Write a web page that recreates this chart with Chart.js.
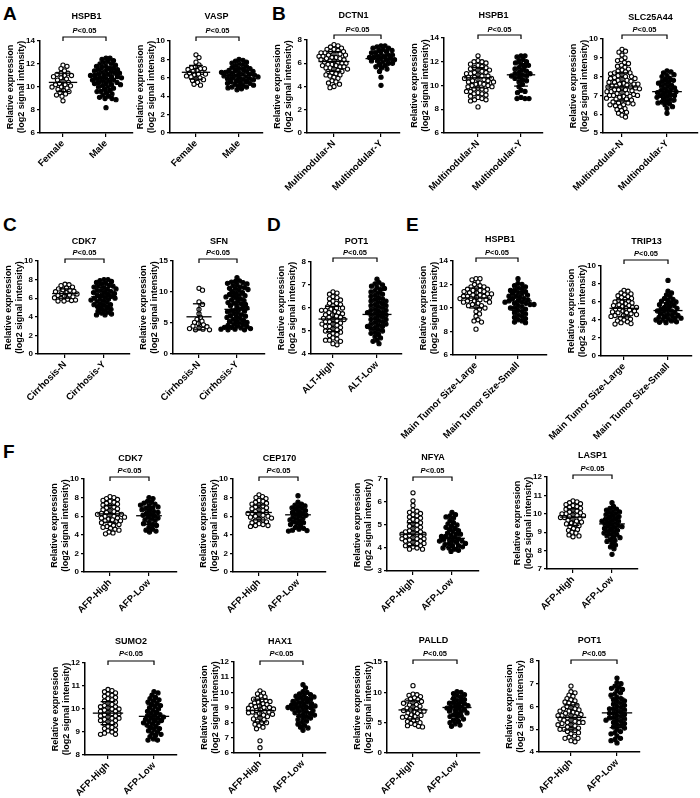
<!DOCTYPE html>
<html>
<head>
<meta charset="utf-8">
<script src="https://cdn.jsdelivr.net/npm/chart.js@4.4.0/dist/chart.umd.min.js"></script>
<style>
body { margin: 0; width: 700px; height: 798px; background: #fff; position: relative; overflow: hidden; font-family: "Liberation Sans", Arial, sans-serif; }
.letter { position: absolute; font-weight: bold; font-size: 19px; line-height: 19px; color: #000; }
canvas { position: absolute; }
</style>
</head>
<body>
<div class="letter" style="left:3px;top:4px">A</div>
<div class="letter" style="left:272px;top:4px">B</div>
<div class="letter" style="left:3px;top:215px">C</div>
<div class="letter" style="left:267px;top:215px">D</div>
<div class="letter" style="left:406px;top:215px">E</div>
<div class="letter" style="left:3px;top:442px">F</div>
<script>
// category labels
const catSex = ['Female', 'Male']
const catMulti = ['Multinodular-N', 'Multinodular-Y']
const catCirr = ['Cirrhosis-N', 'Cirrhosis-Y']
const catAlt = ['ALT-High', 'ALT-Low']
const catSize = ['Main Tumor Size-Large', 'Main Tumor Size-Small']
const catAfp = ['AFP-High', 'AFP-Low']

// A: gender
const hspb1Female = [8.8, 9.2, 9.3, 9.4, 9.5, 9.6, 9.7, 9.8, 9.9, 10.0, 10.0, 10.1, 10.2, 10.2, 10.3, 10.4, 10.5, 10.6, 10.7, 10.8, 10.9, 11.0, 11.0, 11.1, 11.2, 11.2, 11.4, 11.6, 11.8, 11.9]
const hspb1Male = [8.2, 8.9, 9.0, 9.0, 9.1, 9.2, 9.3, 9.4, 9.5, 9.6, 9.6, 9.7, 9.8, 9.9, 10.0, 10.0, 10.1, 10.2, 10.2, 10.3, 10.4, 10.4, 10.5, 10.5, 10.6, 10.6, 10.7, 10.7, 10.8, 10.8, 10.9, 10.9, 11.0, 11.0, 11.1, 11.1, 11.2, 11.2, 11.3, 11.3, 11.4, 11.4, 11.5, 11.5, 11.6, 11.6, 11.7, 11.8, 11.8, 11.9, 12.0, 12.0, 12.1, 12.2, 12.3, 12.4, 12.5, 12.5, 10.3, 11.0]
const vaspFemale = [5.2, 5.3, 5.5, 5.7, 5.8, 5.9, 6.0, 6.1, 6.2, 6.3, 6.4, 6.4, 6.5, 6.6, 6.7, 6.8, 6.9, 7.0, 7.0, 7.1, 7.2, 7.4, 7.7, 8.2, 8.5]
const vaspMale = [4.7, 4.8, 4.9, 5.0, 5.0, 5.1, 5.2, 5.2, 5.3, 5.4, 5.4, 5.5, 5.6, 5.6, 5.7, 5.8, 5.8, 5.9, 5.9, 6.0, 6.0, 6.1, 6.1, 6.2, 6.2, 6.3, 6.3, 6.4, 6.4, 6.5, 6.5, 6.6, 6.6, 6.7, 6.7, 6.8, 6.8, 6.9, 7.0, 7.0, 7.1, 7.2, 7.3, 7.4, 7.5, 7.6, 7.7, 7.8, 7.9, 8.0]

// B: multinodular
const dctn1N = [3.9, 4.0, 4.2, 4.3, 4.4, 4.5, 4.7, 4.8, 4.9, 5.0, 5.0, 5.1, 5.2, 5.3, 5.3, 5.4, 5.5, 5.5, 5.6, 5.6, 5.7, 5.7, 5.8, 5.8, 5.9, 5.9, 6.0, 6.0, 6.1, 6.1, 6.2, 6.2, 6.3, 6.3, 6.4, 6.4, 6.5, 6.5, 6.6, 6.6, 6.7, 6.7, 6.8, 6.8, 6.9, 6.9, 7.0, 7.0, 7.1, 7.2, 7.2, 7.3, 7.4, 7.5, 7.6]
const dctn1Y = [4.1, 4.8, 5.3, 5.5, 5.6, 5.7, 5.8, 5.9, 6.0, 6.0, 6.1, 6.2, 6.2, 6.3, 6.3, 6.4, 6.4, 6.5, 6.5, 6.6, 6.6, 6.7, 6.7, 6.8, 6.9, 6.9, 7.0, 7.1, 7.1, 7.2, 7.3, 7.3, 7.4, 7.5, 7.5]
const hspb1MultiN = [8.2, 8.7, 8.8, 8.8, 8.9, 9.0, 9.1, 9.2, 9.3, 9.3, 9.4, 9.5, 9.5, 9.6, 9.7, 9.7, 9.8, 9.9, 9.9, 10.0, 10.0, 10.1, 10.1, 10.2, 10.3, 10.3, 10.4, 10.4, 10.5, 10.5, 10.6, 10.6, 10.7, 10.7, 10.8, 10.8, 10.9, 11.0, 11.0, 11.1, 11.1, 11.2, 11.3, 11.3, 11.4, 11.5, 11.5, 11.6, 11.7, 11.8, 11.9, 12.0, 12.0, 12.1, 12.5]
const hspb1MultiY = [8.9, 8.9, 8.9, 9.0, 9.4, 9.5, 9.6, 9.9, 10.1, 10.3, 10.4, 10.5, 10.6, 10.7, 10.8, 10.8, 10.9, 11.0, 11.0, 11.1, 11.2, 11.3, 11.4, 11.5, 11.6, 11.7, 11.8, 11.9, 12.0, 12.1, 12.2, 12.4, 12.5, 12.5]
const slc25a44N = [5.85, 5.95, 6.05, 6.1, 6.2, 6.25, 6.3, 6.4, 6.45, 6.5, 6.55, 6.6, 6.6, 6.65, 6.7, 6.75, 6.8, 6.8, 6.85, 6.9, 6.95, 7.0, 7.0, 7.05, 7.1, 7.1, 7.15, 7.2, 7.2, 7.25, 7.3, 7.3, 7.35, 7.4, 7.4, 7.45, 7.5, 7.5, 7.55, 7.6, 7.6, 7.65, 7.7, 7.7, 7.75, 7.8, 7.8, 7.85, 7.9, 7.9, 7.95, 8.0, 8.0, 8.05, 8.1, 8.15, 8.2, 8.2, 8.25, 8.3, 8.35, 8.4, 8.5, 8.55, 8.6, 8.7, 8.75, 8.85, 8.9, 9.0, 9.15, 9.3, 9.35, 9.45, 7.0, 7.3, 7.6, 6.5, 6.95, 7.45]
const slc25a44Y = [6.05, 6.3, 6.4, 6.5, 6.55, 6.6, 6.65, 6.7, 6.75, 6.8, 6.85, 6.9, 6.95, 7.0, 7.0, 7.05, 7.1, 7.15, 7.2, 7.2, 7.25, 7.3, 7.35, 7.4, 7.45, 7.5, 7.55, 7.6, 7.65, 7.7, 7.75, 7.8, 7.85, 7.9, 8.0, 8.05, 8.1, 8.2, 8.25, 8.3]

// C: cirrhosis
const cdk7CirrN = [5.7, 5.7, 5.75, 5.8, 5.9, 6.0, 6.05, 6.15, 6.2, 6.3, 6.35, 6.45, 6.5, 6.6, 6.7, 6.75, 6.85, 6.9, 7.0, 7.1, 7.2, 7.35, 7.45, 7.5]
const cdk7CirrY = [4.2, 4.2, 4.3, 4.4, 4.5, 4.6, 4.7, 4.8, 4.9, 5.0, 5.1, 5.2, 5.3, 5.3, 5.4, 5.5, 5.6, 5.7, 5.8, 5.9, 6.0, 6.0, 6.1, 6.2, 6.3, 6.3, 6.4, 6.5, 6.6, 6.7, 6.8, 6.8, 6.9, 7.0, 7.1, 7.2, 7.3, 7.3, 7.4, 7.5, 7.6, 7.7, 7.8, 7.9, 8.0, 8.0, 6.6, 5.9]
const sfnCirrN = [3.9, 3.9, 4.0, 4.1, 4.2, 4.4, 4.5, 4.7, 4.9, 5.1, 5.3, 5.6, 5.9, 6.5, 7.2, 8.0, 8.4, 10.3, 10.6]
const sfnCirrY = [3.9, 3.9, 4.0, 4.0, 4.1, 4.2, 4.3, 4.4, 4.5, 4.6, 4.7, 4.8, 5.0, 5.1, 5.3, 5.4, 5.6, 5.7, 5.9, 6.0, 6.2, 6.3, 6.5, 6.6, 6.8, 6.9, 7.1, 7.2, 7.4, 7.5, 7.7, 7.8, 8.0, 8.1, 8.3, 8.4, 8.6, 8.7, 8.9, 9.0, 9.2, 9.3, 9.5, 9.6, 9.8, 9.9, 10.1, 10.2, 10.4, 10.5, 10.7, 10.8, 11.0, 11.1, 11.3, 11.4, 11.6, 11.7, 11.8, 12.3, 4.3, 5.2, 6.1, 7.0, 8.2, 9.4, 10.6, 11.5]

// D: ALT
const pot1AltHigh = [4.4, 4.45, 4.55, 4.6, 4.6, 4.65, 4.7, 4.8, 4.85, 4.9, 4.95, 5.0, 5.0, 5.05, 5.1, 5.15, 5.2, 5.2, 5.25, 5.3, 5.3, 5.35, 5.4, 5.4, 5.45, 5.5, 5.5, 5.55, 5.6, 5.6, 5.65, 5.7, 5.7, 5.75, 5.8, 5.8, 5.85, 5.9, 5.9, 5.95, 6.0, 6.0, 6.05, 6.1, 6.15, 6.2, 6.2, 6.3, 6.35, 6.4, 6.45, 6.5, 6.6, 6.65, 6.7]
const pot1AltLow = [4.45, 4.55, 4.6, 4.7, 4.75, 4.85, 4.9, 4.95, 5.0, 5.05, 5.1, 5.15, 5.2, 5.25, 5.3, 5.3, 5.35, 5.4, 5.45, 5.5, 5.5, 5.55, 5.6, 5.65, 5.7, 5.7, 5.75, 5.8, 5.85, 5.9, 5.9, 5.95, 6.0, 6.05, 6.1, 6.1, 6.15, 6.2, 6.25, 6.3, 6.35, 6.4, 6.45, 6.5, 6.55, 6.6, 6.65, 6.7, 6.75, 6.8, 6.85, 6.9, 6.95, 7.0, 7.05, 7.1, 7.25, 5.2, 5.8, 6.3]

// E: tumor size
const hspb1Large = [8.2, 8.8, 8.9, 9.0, 9.3, 9.5, 9.7, 9.9, 10.0, 10.1, 10.2, 10.3, 10.4, 10.5, 10.5, 10.6, 10.6, 10.7, 10.7, 10.8, 10.8, 10.9, 10.9, 11.0, 11.0, 11.1, 11.1, 11.2, 11.2, 11.3, 11.3, 11.4, 11.4, 11.5, 11.5, 11.6, 11.6, 11.7, 11.8, 11.8, 11.9, 12.0, 12.2, 12.4, 12.5, 12.5, 10.2, 11.0]
const hspb1Small = [8.75, 8.8, 8.9, 9.0, 9.1, 9.2, 9.3, 9.4, 9.5, 9.6, 9.7, 9.8, 9.9, 10.0, 10.0, 10.1, 10.2, 10.3, 10.3, 10.4, 10.5, 10.5, 10.6, 10.6, 10.7, 10.8, 10.8, 10.9, 11.0, 11.0, 11.1, 11.2, 11.2, 11.3, 11.4, 11.5, 11.5, 11.6, 11.7, 11.8, 11.9, 12.0, 12.1, 12.5, 10.4]
const trip13Large = [3.55, 3.6, 3.7, 3.8, 3.9, 4.0, 4.1, 4.2, 4.3, 4.4, 4.5, 4.5, 4.6, 4.7, 4.8, 4.8, 4.9, 5.0, 5.0, 5.1, 5.2, 5.2, 5.3, 5.4, 5.4, 5.5, 5.6, 5.6, 5.7, 5.8, 5.9, 6.0, 6.0, 6.1, 6.2, 6.3, 6.4, 6.5, 6.6, 6.7, 6.8, 6.9, 7.0, 7.2, 7.3]
const trip13Small = [3.7, 3.75, 3.8, 3.9, 4.0, 4.0, 4.1, 4.2, 4.3, 4.4, 4.5, 4.5, 4.6, 4.7, 4.8, 4.9, 5.0, 5.0, 5.1, 5.2, 5.3, 5.4, 5.5, 5.6, 5.7, 5.8, 5.9, 6.0, 6.1, 6.2, 6.3, 6.4, 6.6, 6.8, 7.0, 7.2, 8.4, 4.2]

// F: AFP
const cdk7AfpHigh = [4.1, 4.2, 4.3, 4.5, 4.6, 4.7, 4.8, 4.9, 5.0, 5.1, 5.2, 5.3, 5.4, 5.5, 5.5, 5.6, 5.7, 5.8, 5.9, 6.0, 6.0, 6.1, 6.2, 6.3, 6.3, 6.4, 6.5, 6.6, 6.7, 6.8, 6.9, 7.0, 7.1, 7.2, 7.3, 7.4, 7.5, 7.6, 7.7, 7.8, 7.9, 8.0, 8.1, 6.2, 5.8]
const cdk7AfpLow = [4.3, 4.4, 4.5, 4.6, 4.8, 5.0, 5.1, 5.2, 5.3, 5.5, 5.6, 5.7, 5.8, 5.9, 6.0, 6.1, 6.2, 6.3, 6.4, 6.5, 6.6, 6.7, 6.8, 6.9, 7.0, 7.1, 7.2, 7.3, 7.4, 7.5, 7.6, 7.9, 8.0]
const cep170High = [4.9, 5.0, 5.0, 5.1, 5.2, 5.3, 5.4, 5.5, 5.6, 5.7, 5.8, 5.9, 6.0, 6.0, 6.1, 6.2, 6.3, 6.4, 6.5, 6.6, 6.7, 6.8, 6.9, 7.0, 7.1, 7.2, 7.3, 7.4, 7.5, 7.6, 7.7, 7.9, 8.0, 8.1, 8.3, 6.3]
const cep170Low = [4.4, 4.45, 4.5, 4.6, 4.7, 4.8, 5.0, 5.1, 5.2, 5.3, 5.4, 5.5, 5.6, 5.7, 5.8, 5.9, 6.0, 6.1, 6.2, 6.3, 6.4, 6.5, 6.6, 6.7, 6.8, 6.9, 7.0, 7.1, 7.2, 7.3, 7.5, 8.2]
const nfyaHigh = [3.95, 3.95, 4.0, 4.05, 4.1, 4.1, 4.15, 4.2, 4.2, 4.25, 4.3, 4.3, 4.35, 4.4, 4.4, 4.45, 4.5, 4.5, 4.55, 4.6, 4.6, 4.65, 4.7, 4.7, 4.75, 4.8, 4.85, 4.9, 4.95, 5.0, 5.05, 5.1, 5.15, 5.2, 5.25, 5.3, 5.35, 5.4, 5.45, 5.5, 5.55, 5.6, 5.65, 5.85, 6.05, 6.4, 4.4, 4.6]
const nfyaLow = [3.85, 3.9, 3.95, 4.0, 4.0, 4.05, 4.1, 4.1, 4.15, 4.2, 4.2, 4.25, 4.3, 4.3, 4.35, 4.4, 4.4, 4.45, 4.5, 4.5, 4.55, 4.6, 4.6, 4.65, 4.7, 4.75, 4.8, 4.85, 4.9, 4.95, 5.0, 5.05, 5.1, 5.2, 5.3, 5.35, 5.4, 5.45, 5.55, 4.3]
const lasp1High = [8.75, 8.8, 8.85, 8.95, 9.0, 9.1, 9.15, 9.2, 9.3, 9.35, 9.4, 9.45, 9.5, 9.55, 9.6, 9.65, 9.7, 9.75, 9.8, 9.85, 9.9, 9.95, 10.0, 10.0, 10.05, 10.1, 10.15, 10.2, 10.25, 10.3, 10.35, 10.4, 10.45, 10.5, 10.55, 10.6, 10.65, 10.7, 9.8, 9.9]
const lasp1Low = [7.8, 8.1, 8.2, 8.3, 8.4, 8.5, 8.55, 8.6, 8.7, 8.75, 8.8, 8.85, 8.9, 8.95, 9.0, 9.05, 9.1, 9.15, 9.2, 9.25, 9.3, 9.35, 9.4, 9.45, 9.5, 9.55, 9.6, 9.65, 9.7, 9.75, 9.8, 9.85, 9.9, 9.95, 10.0, 10.05, 10.1, 10.15, 10.2, 10.25, 10.3, 10.4, 10.6, 9.3, 9.6]
const sumo2High = [8.9, 8.9, 8.95, 9.0, 9.05, 9.1, 9.15, 9.2, 9.25, 9.3, 9.35, 9.4, 9.45, 9.5, 9.5, 9.55, 9.6, 9.65, 9.7, 9.7, 9.75, 9.8, 9.85, 9.9, 9.9, 9.95, 10.0, 10.05, 10.1, 10.1, 10.15, 10.2, 10.25, 10.3, 10.35, 10.4, 10.45, 10.5, 10.55, 10.6, 10.65, 10.7, 10.75, 10.8, 10.85, 9.8, 10.0, 9.6]
const sumo2Low = [8.65, 8.65, 8.7, 8.8, 8.85, 8.9, 8.95, 9.0, 9.05, 9.1, 9.15, 9.2, 9.25, 9.3, 9.35, 9.4, 9.45, 9.5, 9.5, 9.55, 9.6, 9.65, 9.7, 9.7, 9.75, 9.8, 9.85, 9.9, 9.95, 10.0, 10.05, 10.1, 10.15, 10.2, 10.25, 10.3, 10.35, 10.4, 10.45, 10.5, 10.6, 10.7, 10.75, 9.6, 9.4]
const hax1High = [6.35, 6.8, 7.6, 7.7, 7.8, 7.9, 8.0, 8.0, 8.1, 8.2, 8.25, 8.3, 8.4, 8.45, 8.5, 8.55, 8.6, 8.65, 8.7, 8.75, 8.8, 8.85, 8.9, 8.95, 9.0, 9.05, 9.1, 9.15, 9.2, 9.25, 9.3, 9.35, 9.4, 9.45, 9.5, 9.55, 9.6, 9.7, 9.75, 9.9, 9.95, 10.1, 8.7, 9.0]
const hax1Low = [7.5, 7.65, 7.7, 7.8, 7.9, 8.0, 8.1, 8.2, 8.25, 8.3, 8.4, 8.45, 8.5, 8.55, 8.6, 8.65, 8.7, 8.75, 8.8, 8.85, 8.9, 8.95, 9.0, 9.0, 9.05, 9.1, 9.15, 9.2, 9.25, 9.3, 9.35, 9.4, 9.45, 9.5, 9.55, 9.6, 9.65, 9.7, 9.75, 9.8, 9.85, 9.9, 10.0, 10.05, 10.3, 10.5, 9.0, 9.2]
const palldHigh = [4.3, 4.4, 4.5, 4.7, 4.9, 5.0, 5.2, 5.4, 5.5, 5.7, 5.9, 6.0, 6.2, 6.3, 6.5, 6.6, 6.8, 6.9, 7.0, 7.1, 7.3, 7.4, 7.6, 7.7, 7.9, 8.0, 8.2, 8.3, 8.5, 8.6, 8.8, 8.9, 9.1, 9.3, 9.5, 9.6, 9.7, 11.1, 7.0, 6.0]
const palldLow = [4.4, 4.6, 4.8, 5.0, 5.2, 5.4, 5.6, 5.8, 6.0, 6.1, 6.3, 6.5, 6.6, 6.8, 7.0, 7.1, 7.3, 7.4, 7.5, 7.7, 7.8, 8.0, 8.1, 8.3, 8.5, 8.6, 8.8, 9.0, 9.2, 9.4, 9.6, 9.8, 10.0, 10.1, 7.6, 6.9, 8.2]
const pot1AfpHigh = [4.45, 4.5, 4.6, 4.6, 4.65, 4.7, 4.8, 4.85, 4.9, 4.95, 5.0, 5.0, 5.05, 5.1, 5.15, 5.2, 5.2, 5.25, 5.3, 5.3, 5.35, 5.4, 5.4, 5.45, 5.5, 5.5, 5.55, 5.6, 5.6, 5.65, 5.7, 5.7, 5.75, 5.8, 5.8, 5.85, 5.9, 5.9, 5.95, 6.0, 6.05, 6.1, 6.15, 6.2, 6.25, 6.3, 6.35, 6.45, 6.5, 6.6, 6.65, 6.9, 5.3, 5.6, 5.0]
const pot1AfpLow = [4.4, 4.5, 4.55, 4.6, 4.7, 4.8, 4.85, 4.9, 5.0, 5.05, 5.1, 5.15, 5.2, 5.25, 5.3, 5.35, 5.4, 5.45, 5.5, 5.5, 5.55, 5.6, 5.65, 5.7, 5.7, 5.75, 5.8, 5.85, 5.9, 5.95, 6.0, 6.05, 6.1, 6.15, 6.2, 6.25, 6.3, 6.35, 6.4, 6.5, 6.55, 6.6, 6.7, 6.75, 6.8, 6.85, 6.9, 7.0, 7.05, 7.25, 5.4, 5.9]

// group mean and SD
const meanA1 = [10.4, 10.75], sdA1 = [0.8, 1.0]
const meanA2 = [6.6, 6.25], sdA2 = [0.75, 0.8]
const meanB1 = [6.15, 6.4], sdB1 = [0.85, 0.65]
const meanB2 = [10.65, 10.9], sdB2 = [0.85, 0.95]
const meanB3 = [7.45, 7.2], sdB3 = [0.75, 0.55]
const meanC1 = [6.5, 6.15], sdC1 = [0.5, 1.0]
const meanC2 = [6.0, 7.2], sdC2 = [2.1, 2.3]
const meanD = [5.52, 5.72], sdD = [0.55, 0.65]
const meanE1 = [10.85, 10.6], sdE1 = [0.85, 0.8]
const meanE2 = [5.3, 5.05], sdE2 = [0.95, 0.85]
const meanF1 = [6.25, 6.05], sdF1 = [0.9, 0.95]
const meanF2 = [6.4, 6.15], sdF2 = [0.8, 0.8]
const meanF3 = [4.6, 4.42], sdF3 = [0.5, 0.4]
const meanF4 = [9.82, 9.45], sdF4 = [0.45, 0.6]
const meanF5 = [9.82, 9.68], sdF5 = [0.5, 0.5]
const meanF6 = [8.8, 9.02], sdF6 = [0.75, 0.6]
const meanF7 = [7.1, 7.5], sdF7 = [1.5, 1.4]
const meanF8 = [5.52, 5.72], sdF8 = [0.55, 0.65]

// layout in page pixels: axis x, plot top/bottom, category x, x-axis end, title / P / bracket y
const panels = [
    { title: 'HSPB1', cats: catSex, groups: [hspb1Female, hspb1Male], mean: meanA1, sd: sdA1, y: [6, 14, 2], box: [40, 41, 133, 63, 106, 133, 17, 31, 37] },
    { title: 'VASP', cats: catSex, groups: [vaspFemale, vaspMale], mean: meanA2, sd: sdA2, y: [0, 10, 2], box: [170, 41, 133, 196, 239, 263, 17, 31, 37] },
    { title: 'DCTN1', cats: catMulti, groups: [dctn1N, dctn1Y], mean: meanB1, sd: sdB1, y: [0, 8, 2], box: [307, 40, 133, 334, 381, 400, 16, 30, 35] },
    { title: 'HSPB1', cats: catMulti, groups: [hspb1MultiN, hspb1MultiY], mean: meanB2, sd: sdB2, y: [6, 14, 2], box: [444, 38, 133, 478, 521, 543, 16, 30, 35] },
    { title: 'SLC25A44', cats: catMulti, groups: [slc25a44N, slc25a44Y], mean: meanB3, sd: sdB3, y: [5, 10, 1], box: [603, 39, 133, 622, 667, 698, 18, 30, 35] },
    { title: 'CDK7', cats: catCirr, groups: [cdk7CirrN, cdk7CirrY], mean: meanC1, sd: sdC1, y: [0, 10, 2], box: [38, 261, 354, 65, 104, 130, 242, 253, 259] },
    { title: 'SFN', cats: catCirr, groups: [sfnCirrN, sfnCirrY], mean: meanC2, sd: sdC2, y: [0, 15, 5], box: [173, 261, 354, 199, 237, 265, 242, 253, 259] },
    { title: 'POT1', cats: catAlt, groups: [pot1AltHigh, pot1AltLow], mean: meanD, sd: sdD, y: [4, 8, 1], box: [311, 262, 354, 333, 377, 402, 242, 253, 258] },
    { title: 'HSPB1', cats: catSize, groups: [hspb1Large, hspb1Small], mean: meanE1, sd: sdE1, y: [6, 14, 2], box: [453, 261, 355, 476, 518, 547, 240, 253, 258] },
    { title: 'TRIP13', cats: catSize, groups: [trip13Large, trip13Small], mean: meanE2, sd: sdE2, y: [0, 10, 2], box: [601, 266, 356, 624, 668, 692, 242, 254, 260] },
    { title: 'CDK7', cats: catAfp, groups: [cdk7AfpHigh, cdk7AfpLow], mean: meanF1, sd: sdF1, y: [0, 10, 2], box: [84, 479, 572, 110, 149, 177, 459, 471, 477] },
    { title: 'CEP170', cats: catAfp, groups: [cep170High, cep170Low], mean: meanF2, sd: sdF2, y: [0, 10, 2], box: [233, 479, 572, 259, 298, 326, 459, 471, 477] },
    { title: 'NFYA', cats: catAfp, groups: [nfyaHigh, nfyaLow], mean: meanF3, sd: sdF3, y: [3, 7, 1], box: [387, 479, 571, 413, 452, 479, 458, 471, 477] },
    { title: 'LASP1', cats: catAfp, groups: [lasp1High, lasp1Low], mean: meanF4, sd: sdF4, y: [7, 12, 1], box: [547, 477, 569, 573, 612, 638, 456, 469, 475] },
    { title: 'SUMO2', cats: catAfp, groups: [sumo2High, sumo2Low], mean: meanF5, sd: sdF5, y: [8, 12, 1], box: [85, 663, 755, 108, 154, 177, 642, 654, 661] },
    { title: 'HAX1', cats: catAfp, groups: [hax1High, hax1Low], mean: meanF6, sd: sdF6, y: [6, 12, 1], box: [234, 662, 753, 260, 303, 326, 642, 654, 661] },
    { title: 'PALLD', cats: catAfp, groups: [palldHigh, palldLow], mean: meanF7, sd: sdF7, y: [0, 15, 5], box: [387, 662, 753, 413, 457, 480, 641, 654, 660] },
    { title: 'POT1', cats: catAfp, groups: [pot1AfpHigh, pot1AfpLow], mean: meanF8, sd: sdF8, y: [4, 8, 1], box: [539, 661, 752, 571, 617, 640, 641, 654, 660] }
]

const FONT = '"Liberation Sans", Arial, sans-serif'
Chart.defaults.font.family = FONT
Chart.defaults.color = '#000'

const PAD_L = 62, Y_W = 35, PAD_T = 36, X_H = 110, PAD_R = 4
const DOT_R = 2.1, DOT_BW = 1.1, DOT_D = 3.9
const MEAN_HW = 0.33, CAP_HW = 0.16

// draws gene title, P<0.05 and the bracket between the two groups
const annotPlugin = {
    id: 'annot',
    afterDraw(chart, args, o) {
        const ctx = chart.ctx
        const a = chart.chartArea
        const x1 = chart.scales.x.getPixelForValue(1)
        const x2 = chart.scales.x.getPixelForValue(2)
        ctx.save()
        ctx.fillStyle = '#000'
        ctx.strokeStyle = '#000'
        ctx.textBaseline = 'middle'
        ctx.textAlign = 'center'
        ctx.font = `bold 9px ${FONT}`
        ctx.fillText(o.title, (a.left + a.right) / 2, o.ty - o.top)

        ctx.textAlign = 'left'
        ctx.font = `italic bold 7.5px ${FONT}`
        const wP = ctx.measureText('P').width
        ctx.font = `bold 7.5px ${FONT}`
        const wRest = ctx.measureText('<0.05').width
        const sx = (x1 + x2) / 2 - (wP + wRest) / 2
        ctx.font = `italic bold 7.5px ${FONT}`
        ctx.fillText('P', sx, o.py - o.top)
        ctx.font = `bold 7.5px ${FONT}`
        ctx.fillText('<0.05', sx + wP, o.py - o.top)

        const by = o.by - o.top
        ctx.lineWidth = 1.2
        ctx.beginPath()
        ctx.moveTo(x1, by + 4)
        ctx.lineTo(x1, by)
        ctx.lineTo(x2, by)
        ctx.lineTo(x2, by + 4)
        ctx.stroke()
        ctx.restore()
    }
}

function lineSet(pts) {
    return {
        data: pts, showLine: true, pointRadius: 0, borderColor: '#000', borderWidth: 1.3,
        order: 0, fill: false
    }
}

function swarm(values, center, chart) {
    const ys = chart.scales.y
    const xs = chart.scales.x
    const ppu = xs.getPixelForValue(2) - xs.getPixelForValue(1)
    const pts = values.map(v => ({ v, py: ys.getPixelForValue(v) })).sort((a, b) => a.py - b.py)
    const placed = []
    for (const p of pts) {
        let dx = 0
        for (let k = 0; k < 400; k++) {
            const cand = (k % 2 ? 1 : -1) * Math.ceil(k / 2) * 0.5
            const ok = placed.every(q => {
                const dy = q.py - p.py
                return Math.abs(dy) >= DOT_D || (q.dx - cand) ** 2 + dy * dy >= DOT_D * DOT_D
            })
            if (ok) { dx = cand; break }
        }
        p.dx = dx
        placed.push(p)
    }
    return placed.map(p => ({ x: center + p.dx / ppu, y: p.v }))
}

function makePanel(p) {
    const [ax, top, bot, c1, c2, end, ty, py, by] = p.box
    const w = PAD_L + Y_W + (end - ax) + PAD_R
    const h = PAD_T + (bot - top) + X_H
    const cv = document.createElement('canvas')
    cv.width = w
    cv.height = h
    cv.style.width = w + 'px'
    cv.style.height = h + 'px'
    const cTop = top - PAD_T
    cv.style.left = (ax - Y_W - PAD_L) + 'px'
    cv.style.top = cTop + 'px'
    document.body.appendChild(cv)

    const sp = c2 - c1
    const xMin = 1 - (c1 - ax) / sp
    const xMax = 2 + (end - c2) / sp

    const datasets = []
    p.groups.forEach((g, i) => {
        const c = i + 1, m = p.mean[i], s = p.sd[i]
        datasets.push(lineSet([{ x: c - MEAN_HW, y: m }, { x: c + MEAN_HW, y: m }]))
        datasets.push(lineSet([{ x: c, y: m - s }, { x: c, y: m + s }]))
        datasets.push(lineSet([{ x: c - CAP_HW, y: m + s }, { x: c + CAP_HW, y: m + s }]))
        datasets.push(lineSet([{ x: c - CAP_HW, y: m - s }, { x: c + CAP_HW, y: m - s }]))
    })
    p.groups.forEach((g, i) => {
        datasets.push({
            data: g.map(v => ({ x: i + 1, y: v })),
            pointRadius: DOT_R, pointHoverRadius: DOT_R, pointBorderWidth: DOT_BW,
            pointBackgroundColor: i === 0 ? '#fff' : '#000', pointBorderColor: '#000',
            showLine: false, order: 1
        })
    })

    const chart = new Chart(cv, {
        type: 'scatter',
        data: { datasets },
        plugins: [annotPlugin],
        options: {
            responsive: false,
            animation: false,
            events: [],
            layout: { padding: { left: PAD_L, top: PAD_T, right: PAD_R, bottom: 0 }, autoPadding: false },
            plugins: {
                legend: { display: false },
                tooltip: { enabled: false },
                annot: { title: p.title, top: cTop, ty, py, by }
            },
            scales: {
                x: {
                    type: 'linear', min: xMin, max: xMax,
                    afterBuildTicks: s => { s.ticks = [{ value: 1 }, { value: 2 }] },
                    afterFit: s => { s.height = X_H; s.paddingLeft = 0; s.paddingRight = 0 },
                    ticks: {
                        callback: v => v === 1 ? p.cats[0] : (v === 2 ? p.cats[1] : ''),
                        autoSkip: false, minRotation: 45, maxRotation: 45,
                        font: { size: 9.5, weight: 'bold' }, color: '#000', padding: 1
                    },
                    grid: { drawOnChartArea: false, drawTicks: true, tickLength: 4, color: '#000', lineWidth: 1.2 },
                    border: { display: true, color: '#000', width: 1.5 }
                },
                y: {
                    min: p.y[0], max: p.y[1],
                    afterFit: s => { s.width = Y_W },
                    ticks: { stepSize: p.y[2], font: { size: 8, weight: 'bold' }, color: '#000', padding: 2 },
                    grid: { drawOnChartArea: false, drawTicks: true, tickLength: 3, color: '#000', lineWidth: 1.2 },
                    border: { display: true, color: '#000', width: 1.5 },
                    title: {
                        display: true, text: ['Relative expression', '(log2 signal intensity)'],
                        font: { size: 9, weight: 'bold' }, color: '#000', padding: { top: 0, bottom: 0 }
                    }
                }
            }
        }
    })

    const nLines = p.groups.length * 4
    p.groups.forEach((g, i) => {
        chart.data.datasets[nLines + i].data = swarm(g, i + 1, chart)
    })
    chart.update('none')
}

panels.forEach(makePanel)
</script>
</body>
</html>
